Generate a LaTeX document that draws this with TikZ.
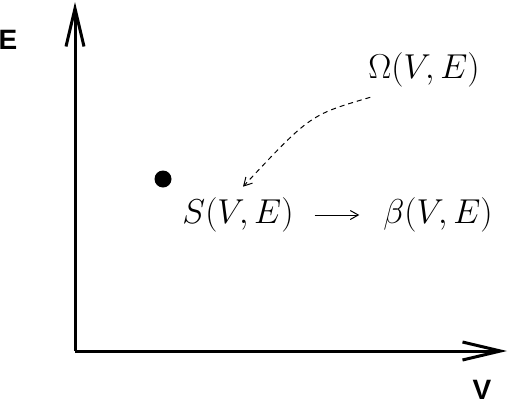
\documentclass[tikz,border=0pt]{standalone}
\usepackage{fontspec}
\newfontfamily\axisfont{Liberation Sans}
\usetikzlibrary{arrows.meta}
\begin{document}
\begin{tikzpicture}[x=0.5pt,y=-0.5pt,
  axis/.style={line width=1.5pt,-{Straight Barb[length=19pt,width=9pt,line width=1.5pt]}},
  thinarrow/.style={line width=0.5pt,-{Straight Barb[length=4pt,width=4.5pt,line width=0.5pt]}},
  lbl/.style={font=\fontsize{16}{19}\selectfont},
  axlbl/.style={font=\axisfont\bfseries\fontsize{14}{16}\selectfont}]
\useasboundingbox (0,0) rectangle (508,402);
\coordinate (O) at (75,351);
\coordinate (Etop) at (75,2);
\coordinate (Vend) at (507,351);
\draw[axis] (O) -- (Etop);
\draw[axis] (O) -- (Vend);
\node[axlbl] (Elbl) at (8,40) {E};
\node[axlbl] (Vlbl) at (482,390) {V};
\node[circle,fill,inner sep=0pt,minimum size=8.5pt] (pt) at (163,179) {};
\node[lbl] (S) at (238,215) {$S(V,E)$};
\node[lbl] (beta) at (438,215) {$\beta(V,E)$};
\node[lbl] (Omega) at (424,70) {$\Omega(V,E)$};
\draw[thinarrow,shorten <=7pt,shorten >=8.5pt] (S.east) -- (beta.west);
\draw[thinarrow,dashed,dash pattern=on 2.5pt off 2pt] ([shift={(9,3)}]Omega.south west) .. controls (310,115) .. ([shift={(5,-4)}]S.north);
\end{tikzpicture}
\end{document}
